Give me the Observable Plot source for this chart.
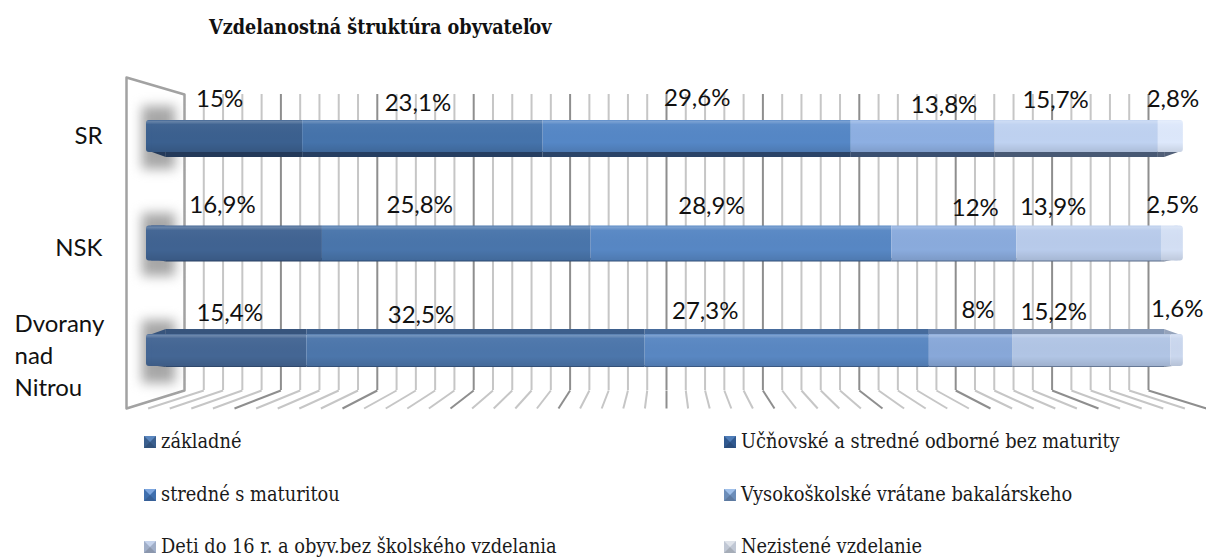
<!DOCTYPE html>
<html><head><meta charset="utf-8">
<script src="https://cdn.jsdelivr.net/npm/d3@7"></script>
<script src="https://cdn.jsdelivr.net/npm/@observablehq/plot@0.6"></script>
<style>
html,body{margin:0;padding:0;background:#fff;width:1206px;height:557px;overflow:hidden}
#title{position:absolute;left:209px;top:16px;font:bold 19.6px "DejaVu Serif Condensed","DejaVu Serif",serif;font-stretch:condensed;color:#111;white-space:nowrap}
#chart{position:absolute;left:0;top:60px}
#legend{position:absolute;left:0;top:0}
.item{position:absolute;font:19.8px "DejaVu Serif Condensed","DejaVu Serif",serif;font-stretch:condensed;color:#1a1a1a;white-space:nowrap;line-height:20px}
.sw{position:absolute;width:0;height:0;left:-17px;top:4px;border-style:solid;border-width:6px}
</style></head><body>
<div id="title">Vzdelanostná štruktúra obyvateľov</div>
<div id="chart"></div>
<div id="legend"></div>
<script>
// --- data ---
const regions = ["SR", "NSK", "Dvorany\nnad\nNitrou"];
const levels = ["základné", "Učňovské a stredné odborné bez maturity", "stredné s maturitou", "Vysokoškolské vrátane bakalárskeho", "Deti do 16 r. a obyv.bez školského vzdelania", "Nezistené vzdelanie"];
const srValues = [15, 23.1, 29.6, 13.8, 15.7, 2.8];
const nskValues = [16.9, 25.8, 28.9, 12, 13.9, 2.5];
const dvoranyValues = [15.4, 32.5, 27.3, 8, 15.2, 1.6];
const labelTexts = [
  ["15%", "23,1%", "29,6%", "13,8%", "15,7%", "2,8%"],
  ["16,9%", "25,8%", "28,9%", "12%", "13,9%", "2,5%"],
  ["15,4%", "32,5%", "27,3%", "8%", "15,2%", "1,6%"]
];
const gridTicks = d3.range(0, 101, 2);

// --- styles & layout ---
const levelColors = ["#3b608f", "#4573ab", "#5587c6", "#8dafe2", "#bfd2f1", "#dde8fb"];
const rowFade = [0, 0.09, 0.17];
const W = 1206, H = 360, top0 = 60;
const xPx = 10.41, yPx = 107;                  // px per percent point, px per row
const x0 = 146, y0 = 136 - top0;
const barEnd = 99.6;
const back = v => (184 - x0 + 9.64 * v) / xPx;    // perspective of rear plane
const front = v => (126 - x0 + 10.8 * v) / xPx;   // perspective of front edge
const yp = p => (p - top0 - y0) / yPx;             // row units for frame levels
const wallTop = yp(94), wallBot = yp(390), edgeTop = yp(77), edgeBot = yp(408);
const halfFace = [16, 17.5, 16];
// label nudges (px) away from segment centre
const nudge = [
  [[-5, -37], [-5, -33], [0, -38], [21, -31], [-21, -36], [0, -37]],
  [[-12, -38], [-37, -38], [-30, -37], [21, -35], [-36, -36], [-2, -38]],
  [[3, -37], [-55, -35], [-82, -39], [7, -40], [-38, -38], [-2, -41]]
];

const table = [srValues, nskValues, dvoranyValues].flatMap((vals, r) => {
  let c = 0;
  return vals.map((v, i) => {
    const row = {r, i, x1: c, x2: c + v, label: labelTexts[r][i],
      lx: c + v / 2 + nudge[r][i][0] / xPx, ly: r + nudge[r][i][1] / yPx,
      fill: d3.interpolateRgb(levelColors[i], "#6f86ad")(rowFade[r])};
    c += v;
    return row;
  });
});
const rows = d3.range(regions.length);
const hf = r => halfFace[r] / yPx;
const gridColor = v => v % 10 === 0 ? "#8e8e8e" : "#c6c6c6";
const inset = 0.5;
const segs = table.map(d => ({...d, x1: Math.max(d.x1, inset), x2: Math.min(d.x2, barEnd - inset)}));
const caps = table.filter(d => d.i === 0 || d.i === 5).map(d => d.i === 0 ? {...d, x2: 2} : {...d, x1: Math.max(d.x1, barEnd - 1), x2: barEnd});
const taperL = 1.9, taperR = 97.8;
const mix = (d, t) => d3.interpolateRgb(d.fill, "#1a2a44")(t);
const band = (r, t) => table.filter(d => d.r === r && d.x2 > taperL && d.x1 < taperR).map(d => ({...d,
  x1: Math.max(d.x1, taperL), x2: Math.min(d.x2, taperR), fill: mix(d, t)}));
// tapered ends of a visible bar side: edge = row offset of face, reach = offset of outer edge
const wedges = (r, t, edge, reach) => {
  const first = table.find(d => d.r === r && d.i === 0), last = table.filter(d => d.r === r && d.x2 > taperR);
  const a = [{k: "l", x: 0.3, y1: r + edge / yPx, y2: r + edge / yPx, fill: mix(first, t)},
             {k: "l", x: taperL, y1: r + edge / yPx, y2: r + reach / yPx, fill: mix(first, t)}];
  const lastFill = mix(last[last.length - 1], t);
  const b = [{k: "r", x: taperR, y1: r + edge / yPx, y2: r + reach / yPx, fill: lastFill},
             {k: "r", x: barEnd - 0.2, y1: r + edge / yPx, y2: r + edge / yPx, fill: lastFill}];
  return [...a, ...b];
};
const sideMarks = (r, t, edge, reach) => [
  Plot.rect(band(r, t), {x1: "x1", x2: "x2", y1: d => d.r + Math.min(edge, reach) / yPx, y2: d => d.r + Math.max(edge, reach) / yPx, fill: "fill"}),
  Plot.areaY(wedges(r, t, edge, reach), {x: "x", y1: "y1", y2: "y2", z: "k", fill: "fill", curve: "linear"})
];

const defs = () => {
  const s = d3.create("svg:defs");
  const v = s.append("linearGradient").attr("id", "shade").attr("x1", 0).attr("y1", 0).attr("x2", 0).attr("y2", 1);
  [[0, "#fff", .05], [.05, "#fff", .22], [.14, "#fff", .03], [.7, "#000", 0], [1, "#000", .1]].forEach(([o, c, a]) =>
    v.append("stop").attr("offset", o).attr("stop-color", c).attr("stop-opacity", a));
  const f = s.append("filter").attr("id", "soft").attr("filterUnits", "userSpaceOnUse")
    .attr("x", 100).attr("y", 0).attr("width", 120).attr("height", H).attr("color-interpolation-filters", "sRGB");
  f.append("feGaussianBlur").attr("stdDeviation", 6);
  return s.node();
};

const plot = Plot.plot({
  width: W, height: H, margin: 0,
  x: {domain: [0, 100], range: [x0, x0 + 100 * xPx], axis: null},
  y: {domain: [0, 1], range: [y0, y0 + yPx], axis: null},
  style: {background: "transparent", overflow: "visible"},
  marks: [
    defs,
    // rear grid
    Plot.ruleX(gridTicks.slice(1), {x: back, y1: wallTop, y2: wallBot, stroke: gridColor, strokeWidth: 2}),
    // floor diagonals
    Plot.link(gridTicks.slice(1), {x1: back, y1: () => wallBot, x2: front, y2: () => edgeBot, stroke: gridColor, strokeWidth: 2}),
    // side wall
    Plot.line([[front(0), edgeTop], [back(0), wallTop], [back(0), wallBot], [front(0), edgeBot], [front(0), edgeTop]], {stroke: "#a2a2a2", strokeWidth: 2.5, curve: "linear"}),
    // shadows
    Plot.rect(rows, {x1: () => -0.4, x2: () => 2.8, y1: r => r - 30 / yPx, y2: r => r + 33 / yPx, fill: "#a6a6a6",
      render(i, s, v, d, c, next) { const g = next(i, s, v, d, c); g.setAttribute("filter", "url(#soft)"); return g; }}),
    // visible top / bottom faces of the bars
    ...sideMarks(0, 0.72, 15, 21),
    ...sideMarks(1, 0.6, 15, 18.5),
    ...sideMarks(2, 0.3, -15, -21),
    ...sideMarks(2, 0.5, 15, 17),
    // bar fronts
    Plot.rect(caps, {x1: "x1", x2: "x2", y1: d => d.r - hf(d.r), y2: d => d.r + hf(d.r), fill: "fill", rx: 3}),
    Plot.rect(segs, {x1: "x1", x2: "x2", y1: d => d.r - hf(d.r), y2: d => d.r + hf(d.r), fill: "fill"}),
    Plot.rect(rows, {x1: () => 0, x2: () => barEnd, y1: r => r - hf(r), y2: r => r + hf(r), fill: "url(#shade)", rx: 3}),
    // value labels
    Plot.text(table, {x: "lx", y: "ly", text: "label", fontFamily: "Lato", fontSize: 24, fill: "#111", lineAnchor: "middle"}),
    // category labels
    Plot.text(regions.slice(0, 2), {x: () => (102 - x0) / xPx, y: (d, i) => i + [0, 5][i] / yPx, text: d => d, textAnchor: "end", fontFamily: "Lato", fontSize: 24, fill: "#111", lineAnchor: "middle"}),
    Plot.text(regions.slice(2), {x: () => (14 - x0) / xPx, y: () => 2 + 3.5 / yPx, text: d => d, textAnchor: "start", fontFamily: "Lato", fontSize: 24, lineHeight: 1.33, fill: "#111", lineAnchor: "middle"})
  ]
});
document.getElementById("chart").append(plot);

// legend below the SVG
const lg = document.getElementById("legend");
const swatchTop = ["#5b87bf", "#4f7db8", "#7da6df", "#a0c0ea", "#c5d3ec", "#dfe3ea"];
const swatchMid = ["#3a5f8e", "#30598f", "#3f6fae", "#6c8db9", "#a0aec8", "#c0c7d4"];
const lx = [161, 741], lyPos = [432, 432, 485, 485, 537, 537];
levels.forEach((t, i) => {
  const el = document.createElement("div");
  el.className = "item";
  el.style.left = lx[i % 2] + "px";
  el.style.top = lyPos[i] + "px";
  el.textContent = t;
  const sw = document.createElement("span");
  sw.className = "sw";
  sw.style.borderColor = `${swatchTop[i]} ${swatchMid[i]} ${d3.color(swatchMid[i]).darker(.4)} ${swatchMid[i]}`;
  el.append(sw);
  lg.append(el);
});
</script>
</body></html>
